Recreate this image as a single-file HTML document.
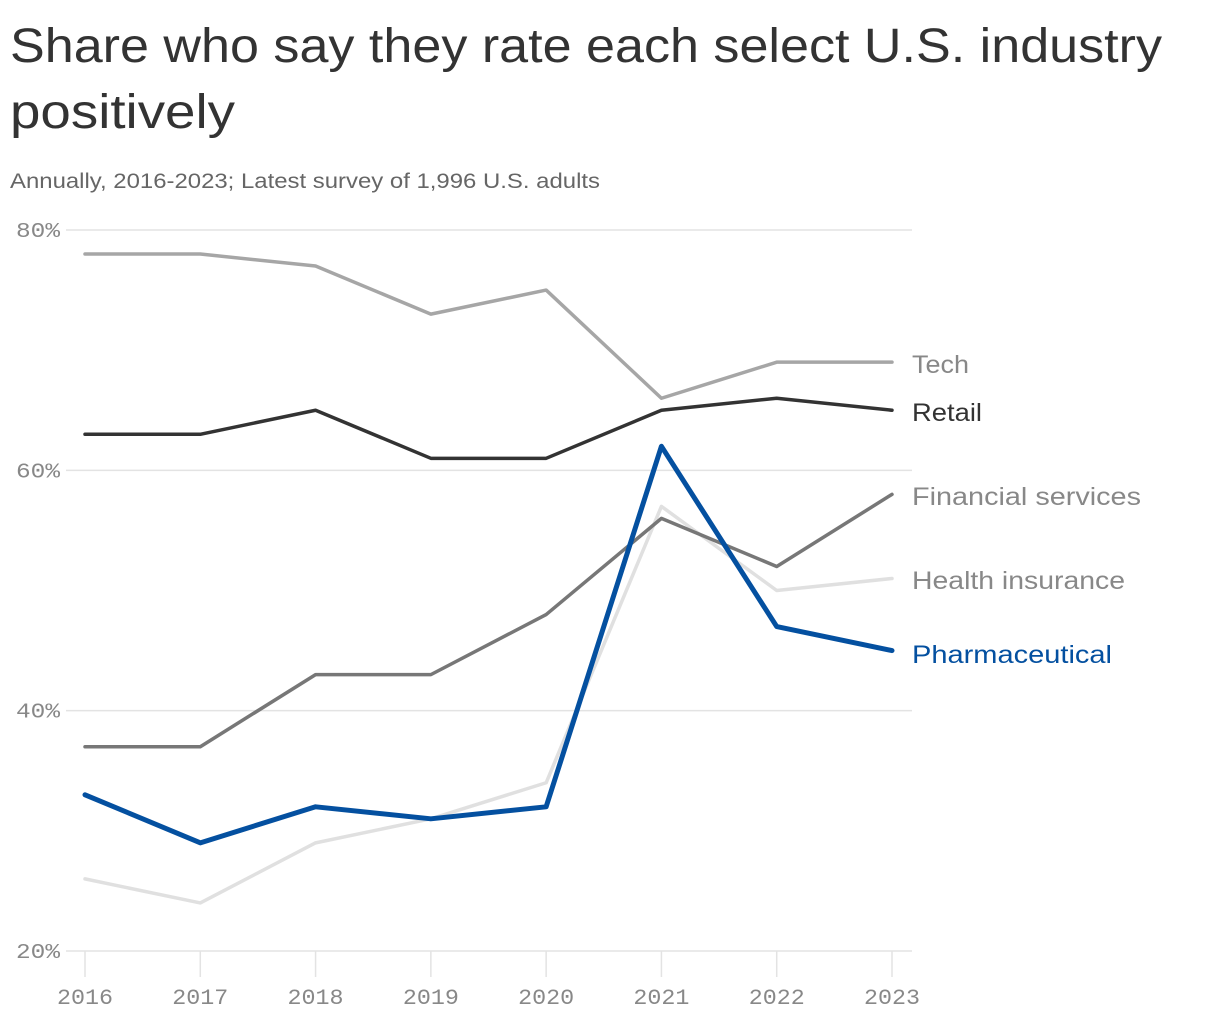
<!DOCTYPE html>
<html><head><meta charset="utf-8"><style>
html,body{margin:0;padding:0;background:#fff;width:1220px;height:1020px;overflow:hidden}
svg{display:block;font-family:"Liberation Sans",sans-serif}
</style></head><body>
<svg id="chart" width="1220" height="1020" viewBox="0 0 1220 1020" xmlns="http://www.w3.org/2000/svg">
<text x="10" y="62" font-size="48" fill="#333" textLength="1152" lengthAdjust="spacingAndGlyphs">Share who say they rate each select U.S. industry</text>
<text x="10" y="128" font-size="48" fill="#333" textLength="225" lengthAdjust="spacingAndGlyphs">positively</text>
<text x="10" y="188" font-size="21" fill="#666" textLength="590" lengthAdjust="spacingAndGlyphs">Annually, 2016-2023; Latest survey of 1,996 U.S. adults</text>
<g id="grid"></g><g id="lines"></g><g id="labels"></g>
</svg>
<script>
const years=[2016,2017,2018,2019,2020,2021,2022,2023];
const yTicks=[20,40,60,80];
const tech=[78,78,77,73,75,66,69,69];
const retail=[63,63,65,61,61,65,66,65];
const financial=[37,37,43,43,48,56,52,58];
const health=[26,24,29,31,34,57,50,51];
const pharma=[33,29,32,31,32,62,47,45];
const NS="http://www.w3.org/2000/svg";
const x=i=>85+i*(892-85)/(years.length-1);
const y=v=>951-(v-20)*(951-230)/60;
function mk(t,a,p){const e=document.createElementNS(NS,t);for(const k in a)e.setAttribute(k,a[k]);p.appendChild(e);return e;}
const grid=document.getElementById('grid'),lines=document.getElementById('lines'),labels=document.getElementById('labels');
yTicks.forEach(t=>{
 const l=mk('line',{x1:66,x2:912,y1:y(t),y2:y(t),stroke:'#e3e3e3','stroke-width':1.5},grid);
 
 
 const tx=mk('text',{x:16,y:y(t)+7,'font-size':21,fill:'#888','font-family':'Liberation Mono, monospace',textLength:44,lengthAdjust:'spacingAndGlyphs'},grid);
 tx.textContent=t+'%';
 
 
});
years.forEach((yr,i)=>{
 const l=mk('line',{x1:x(i),x2:x(i),y1:951,y2:977,stroke:'#e3e3e3','stroke-width':1.5},grid);
 
 
 const tx=mk('text',{x:x(i),y:1004,'text-anchor':'middle','font-size':22,fill:'#888','font-family':'Liberation Mono, monospace',textLength:56,lengthAdjust:'spacingAndGlyphs'},grid);
 tx.textContent=yr;
 
 
});
const series=[
 {n:'Health insurance',d:health,c:'#e0e0e0',w:3.5,ly:581,lc:'#888',tw:213},
 {n:'Tech',d:tech,c:'#a6a6a6',w:3.5,ly:365,lc:'#888',tw:57},
 {n:'Financial services',d:financial,c:'#777',w:3.5,ly:497,lc:'#888',tw:229},
 {n:'Retail',d:retail,c:'#333',w:3.5,ly:413,lc:'#333',tw:70},
 {n:'Pharmaceutical',d:pharma,c:'#0450a0',w:5,ly:655,lc:'#0450a0',tw:200}
];
series.forEach(s=>{
 const p=mk('polyline',{points:s.d.map((v,i)=>x(i)+','+y(v)).join(' '),fill:'none',stroke:s.c,'stroke-width':s.w,'stroke-linejoin':'round','stroke-linecap':'round'},lines);
 
 
 const t=mk('text',{x:912,y:s.ly+8,'font-size':25,fill:s.lc,textLength:s.tw,lengthAdjust:'spacingAndGlyphs'},labels);
 t.textContent=s.n;
 
 
});
</script>
</body></html>
